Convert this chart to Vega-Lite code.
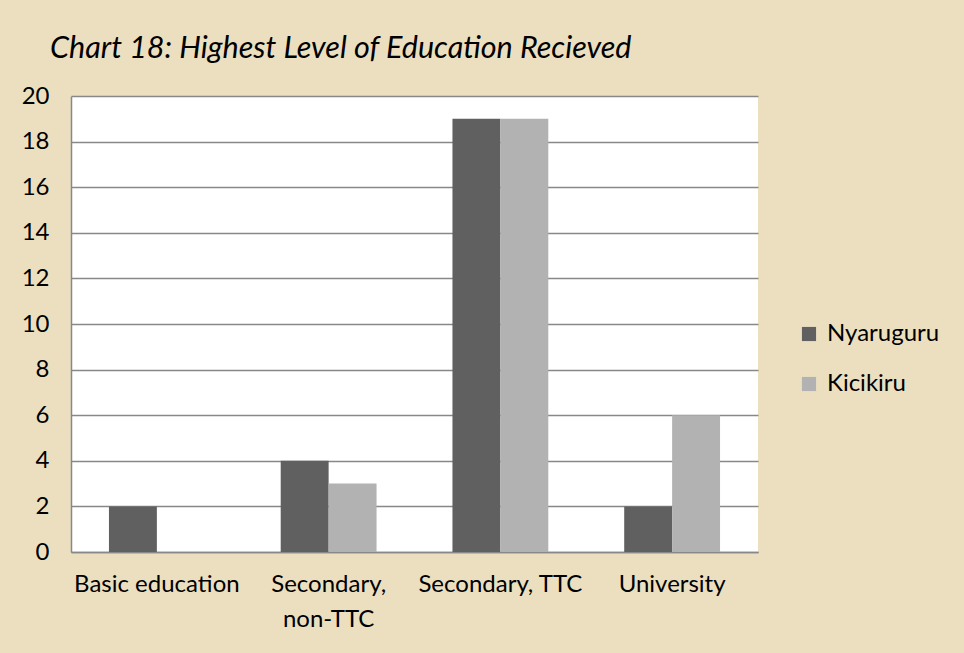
{
  "$schema": "https://vega.github.io/schema/vega-lite/v6.json",
  "autosize": {"type": "none"},
  "width": 687,
  "height": 456,
  "padding": {"left": 71, "top": 96, "right": 206, "bottom": 101},
  "background": "#ebdfc0",
  "title": {
    "text": "Chart 18: Highest Level of Education Recieved",
    "anchor": "start",
    "frame": "group",
    "dx": -21,
    "offset": 20,
    "font": "Lato",
    "fontStyle": "italic",
    "fontWeight": "normal",
    "fontSize": 30.5,
    "color": "#000000"
  },
  "data": {
    "values": [
      {"level": "Basic education", "district": "Nyaruguru", "count": 2},
      {"level": "Basic education", "district": "Kicikiru", "count": 0},
      {"level": "Secondary, non-TTC", "district": "Nyaruguru", "count": 4},
      {"level": "Secondary, non-TTC", "district": "Kicikiru", "count": 3},
      {"level": "Secondary, TTC", "district": "Nyaruguru", "count": 19},
      {"level": "Secondary, TTC", "district": "Kicikiru", "count": 19},
      {"level": "University", "district": "Nyaruguru", "count": 2},
      {"level": "University", "district": "Kicikiru", "count": 6}
    ]
  },
  "mark": {"type": "bar"},
  "encoding": {
    "x": {
      "field": "level",
      "type": "nominal",
      "sort": null,
      "scale": {"paddingInner": 0.442, "paddingOuter": 0.221},
      "axis": {
        "title": null,
        "labelAngle": 0,
        "labelFont": "Lato",
        "labelFontSize": 24,
        "labelColor": "#000000",
        "labelPadding": 20,
        "labelLineHeight": 35,
        "ticks": false,
        "domainColor": "#888888",
        "domainWidth": 1.5,
        "labelExpr": "datum.label == 'Secondary, non-TTC' ? ['Secondary,', 'non-TTC'] : datum.label"
      }
    },
    "xOffset": {"field": "district", "type": "nominal", "sort": ["Nyaruguru", "Kicikiru"], "scale": {"paddingInner": 0, "paddingOuter": 0}},
    "y": {
      "field": "count",
      "type": "quantitative",
      "scale": {"domain": [0, 20]},
      "axis": {
        "title": null,
        "values": [0, 2, 4, 6, 8, 10, 12, 14, 16, 18, 20],
        "labelFont": "Lato",
        "labelFontSize": 24,
        "labelColor": "#000000",
        "labelPadding": 22,
        "ticks": false,
        "grid": true,
        "gridColor": "#888888",
        "gridWidth": 1.5,
        "domainColor": "#888888",
        "domainWidth": 1.5
      }
    },
    "color": {
      "field": "district",
      "type": "nominal",
      "sort": ["Nyaruguru", "Kicikiru"],
      "scale": {"domain": ["Nyaruguru", "Kicikiru"], "range": ["#606060", "#b2b2b2"]},
      "legend": {
        "title": null,
        "orient": "none",
        "legendX": 726,
        "legendY": 226,
        "symbolType": "square",
        "symbolSize": 200,
        "symbolStrokeWidth": 0,
        "labelFont": "Lato",
        "labelFontSize": 24,
        "labelColor": "#000000",
        "rowPadding": 26,
        "labelOffset": 6
      }
    }
  },
  "config": {
    "view": {"fill": "#ffffff", "stroke": null}
  }
}
